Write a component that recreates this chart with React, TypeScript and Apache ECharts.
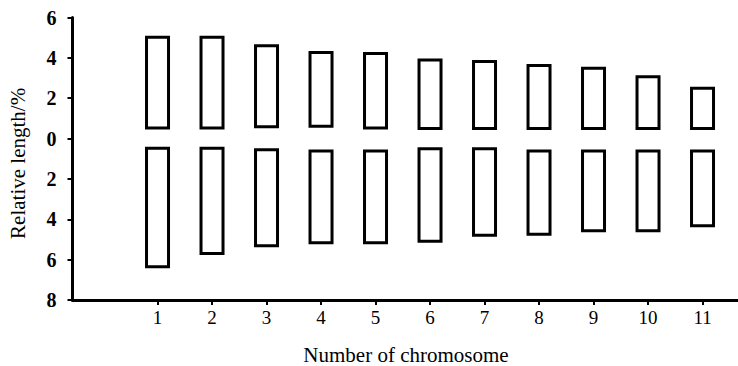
import React, { useEffect, useRef } from 'react';
import * as echarts from 'echarts';

// Chromosome numbers (x categories)
const chromosomes = [1, 2, 3, 4, 5, 6, 7, 8, 9, 10, 11];
// Upper arm: start (near centromere) and end, relative length %
const upperStart = [0.53, 0.53, 0.58, 0.61, 0.53, 0.5, 0.5, 0.5, 0.5, 0.5, 0.5];
const upperEnd = [5.02, 5.02, 4.6, 4.27, 4.22, 3.9, 3.82, 3.62, 3.49, 3.06, 2.5];
// Lower arm: start (near centromere) and end, relative length % (drawn downward)
const lowerStart = [0.48, 0.48, 0.56, 0.61, 0.61, 0.51, 0.51, 0.61, 0.61, 0.61, 0.61];
const lowerEnd = [6.35, 5.69, 5.31, 5.16, 5.16, 5.09, 4.79, 4.74, 4.57, 4.57, 4.32];
// Y tick labels are shown as absolute values: 6 4 2 0 2 4 6 8
const yMin = -8;
const yMax = 6;
const yStep = 2;

const FONT = 'Liberation Serif';

export default function App() {
  const ref = useRef<HTMLDivElement>(null);
  useEffect(() => {
    const chart = echarts.init(ref.current as HTMLDivElement, null, { renderer: 'svg' });
    const data: number[][] = [];
    chromosomes.forEach((c, i) => {
      data.push([c, upperStart[i], upperEnd[i]]);
      data.push([c, -lowerStart[i], -lowerEnd[i]]);
    });
    chart.setOption({
      animation: false,
      backgroundColor: '#ffffff',
      grid: { left: 72.5, right: 0, top: 17.5, bottom: 66 },
      xAxis: {
        type: 'value',
        min: -0.56,
        max: 11.651,
        splitLine: { show: false },
        axisLine: { onZero: false, lineStyle: { color: '#000', width: 3 } },
        axisTick: {
          show: true,
          customValues: chromosomes,
          length: 5,
          lineStyle: { color: '#000', width: 2 },
        },
        axisLabel: {
          customValues: chromosomes,
          color: '#000',
          fontFamily: FONT,
          fontSize: 19,
          margin: 8,
        },
      },
      yAxis: {
        type: 'value',
        min: yMin,
        max: yMax,
        interval: yStep,
        splitLine: { show: false },
        axisLine: { show: true, onZero: false, lineStyle: { color: '#000', width: 3 } },
        axisTick: { show: true, length: 5, lineStyle: { color: '#000', width: 2 } },
        axisLabel: {
          color: '#000',
          fontFamily: FONT,
          fontSize: 20,
          fontWeight: 'bold',
          margin: 16,
          padding: [3, 0, 0, 0],
          formatter: (v: number) => String(Math.abs(v)),
        },
      },
      series: [
        {
          type: 'custom',
          data,
          encode: { x: 0, y: [1, 2] },
          renderItem: (params: any, api: any) => {
            const x = api.value(0);
            const p0 = api.coord([x, api.value(1)]);
            const p1 = api.coord([x, api.value(2)]);
            const w = 22;
            return {
              type: 'rect',
              shape: {
                x: p0[0] - w / 2,
                y: Math.min(p0[1], p1[1]),
                width: w,
                height: Math.abs(p1[1] - p0[1]),
              },
              style: { fill: '#fff', stroke: '#000', lineWidth: 3 },
            };
          },
        },
      ],
      graphic: [
        {
          type: 'text',
          x: 406,
          y: 355,
          style: {
            text: 'Number of chromosome',
            fontFamily: FONT,
            fontSize: 21,
            lineHeight: 21,
            fill: '#000',
            align: 'center',
            verticalAlign: 'middle',
          },
        },
        {
          type: 'text',
          x: 18.3,
          y: 163.4,
          rotation: Math.PI / 2,
          style: {
            text: 'Relative length/%',
            fontFamily: FONT,
            fontSize: 21,
            fill: '#000',
            align: 'center',
            verticalAlign: 'middle',
          },
        },
      ],
    });
    return () => chart.dispose();
  }, []);
  return (
    <div
      ref={ref}
      style={{ position: 'fixed', left: 0, top: 0, width: 738, height: 366 }}
    />
  );
}
